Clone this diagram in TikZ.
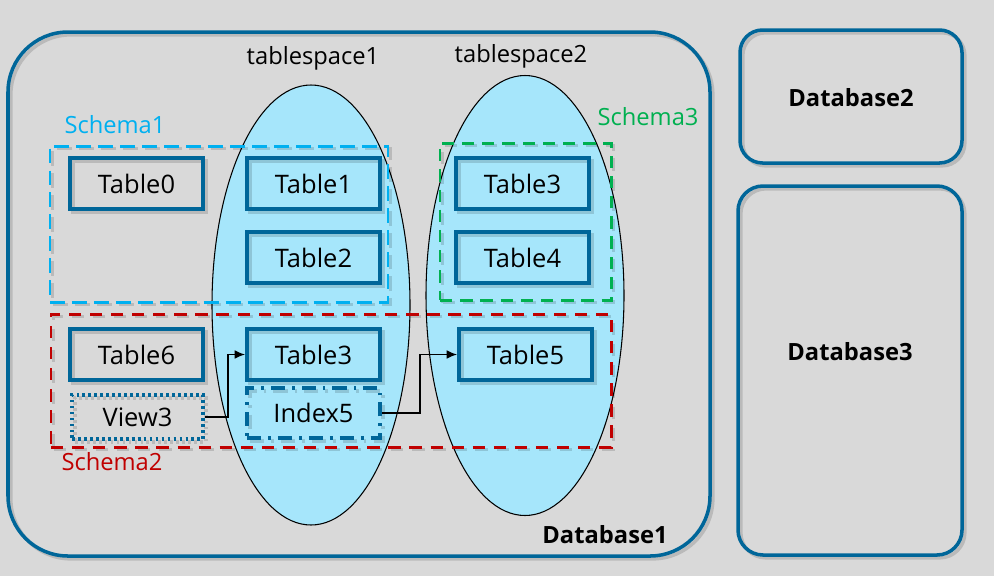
\documentclass[tikz,border=0pt]{standalone}
\usepackage{fontspec}
\setmainfont{Open Sans}
\usetikzlibrary{shapes.geometric,positioning,arrows.meta}

\definecolor{dbblue}{RGB}{0,102,153}
\definecolor{tsfill}{RGB}{166,230,251}
\definecolor{bggray}{RGB}{217,217,217}
\definecolor{sblue}{RGB}{0,176,240}
\definecolor{sred}{RGB}{192,0,0}
\definecolor{sgreen}{RGB}{0,176,80}

\begin{document}
\begin{tikzpicture}[
    x=0.02cm, y=-0.02cm, % one unit = one pixel of the 994x576 sketch, y downwards
    >={Latex[length=6pt,width=5pt]},
    % soft shadow under the thick outlines
    shd/.style={preaction={draw=black,opacity=0.14,transform canvas={xshift=1.6pt,yshift=-1.6pt}}},
    % Database frames
    db/.style={shd,draw=dbblue,line width=2pt,rounded corners=#1,inner sep=0pt},
    dbtxt/.style={font=\fontsize{13.5}{16}\selectfont\bfseries,inner sep=0pt},
    % Tablespaces
    ts/.style={ellipse,draw=black,line width=0.6pt,fill=tsfill,inner sep=0pt,minimum width=198*0.02cm,minimum height=440*0.02cm},
    tstxt/.style={font=\fontsize{13.5}{16}\selectfont,inner sep=0pt},
    % Schemas
    schema/.style={shd,draw=#1,line width=1.7pt,inner sep=0pt},
    stxt/.style={font=\fontsize{13.5}{16}\selectfont,text=#1,inner sep=0pt},
    % Objects
    tbl/.style={shd,draw=dbblue,line width=2.2pt,minimum width=133*0.02cm,minimum height=51*0.02cm,inner sep=0pt,font=\fontsize{14.5}{17}\selectfont},
    link/.style={->,line width=0.7pt}
]

% ==============================
% BACKGROUND + BOUNDING BOX
% ==============================
\path[use as bounding box,fill=bggray] (0,0) rectangle (994,576);

% ==============================
% DATABASES
% ==============================
\node[db=1.2cm,minimum width=702*0.02cm,minimum height=524*0.02cm] (db1) at (359,294) {};
\node[db=0.45cm,minimum width=222*0.02cm,minimum height=133*0.02cm] (db2) at (851,96.5) {};
\node[db=0.5cm,minimum width=224*0.02cm,minimum height=369*0.02cm] (db3) at (850,370.5) {};

\node[dbtxt] (db1txt) at (605,535) {Database1};
\node[dbtxt] (db2txt) at (851,98) {Database2};
\node[dbtxt] (db3txt) at (850,352) {Database3};

% ==============================
% TABLESPACES (ellipses)
% ==============================
\node[ts] (ts1) at (311,305) {};
\node[ts] (ts2) at (525,295.5) {};
\node[tstxt] (ts1txt) at (313,58) {tablespace1};
\node[tstxt] (ts2txt) at (521,56) {tablespace2};

% ==============================
% SCHEMAS (dashed frames)
% ==============================
\node[schema=sblue,dash pattern=on 8.5pt off 4pt,minimum width=338*0.02cm,minimum height=156*0.02cm] (s1) at (219,224) {};
\node[schema=sgreen,dash pattern=on 7pt off 4.5pt,minimum width=171*0.02cm,minimum height=157*0.02cm] (s3) at (525.5,221.5) {};
\node[schema=sred,dash pattern=on 7pt off 5pt,minimum width=560*0.02cm,minimum height=133*0.02cm] (s2) at (331,380.5) {};

\node[stxt=sblue] (s1txt) at (115,125) {Schema1};
\node[stxt=sgreen] (s3txt) at (648,117) {Schema3};
\node[stxt=sred] (s2txt) at (112,462) {Schema2};

% ==============================
% TABLES, VIEW, INDEX
% ==============================
\node[tbl] (t0)  at (136.5,183.5) {Table0};
\node[tbl] (t1)  at (313.5,183.5) {Table1};
\node[tbl] (t2)  at (313.5,257.5) {Table2};
\node[tbl] (t3a) at (522.5,183.5) {Table3};
\node[tbl] (t4)  at (522.5,257.5) {Table4};

\node[tbl] (t6)  at (136.5,354.5) {Table6};
\node[tbl] (t3b) at (313.5,354.5) {Table3};
\node[tbl] (t5)  at (525.5,354.5) {Table5};

\node[tbl,dash pattern=on 1.6pt off 1.8pt,minimum width=131*0.02cm,minimum height=44*0.02cm] (v3) at (137.5,417) {View3};
\node[tbl,dash pattern=on 8pt off 4pt on 1.6pt off 4pt,minimum height=50*0.02cm] (i5) at (313.5,413) {Index5};

% links
\draw[link] (v3.east) -- ++(23,0) |- (t3b.west);
\draw[link] (i5.east) -- ++(38,0) |- (t5.west);
\end{tikzpicture}
\end{document}
